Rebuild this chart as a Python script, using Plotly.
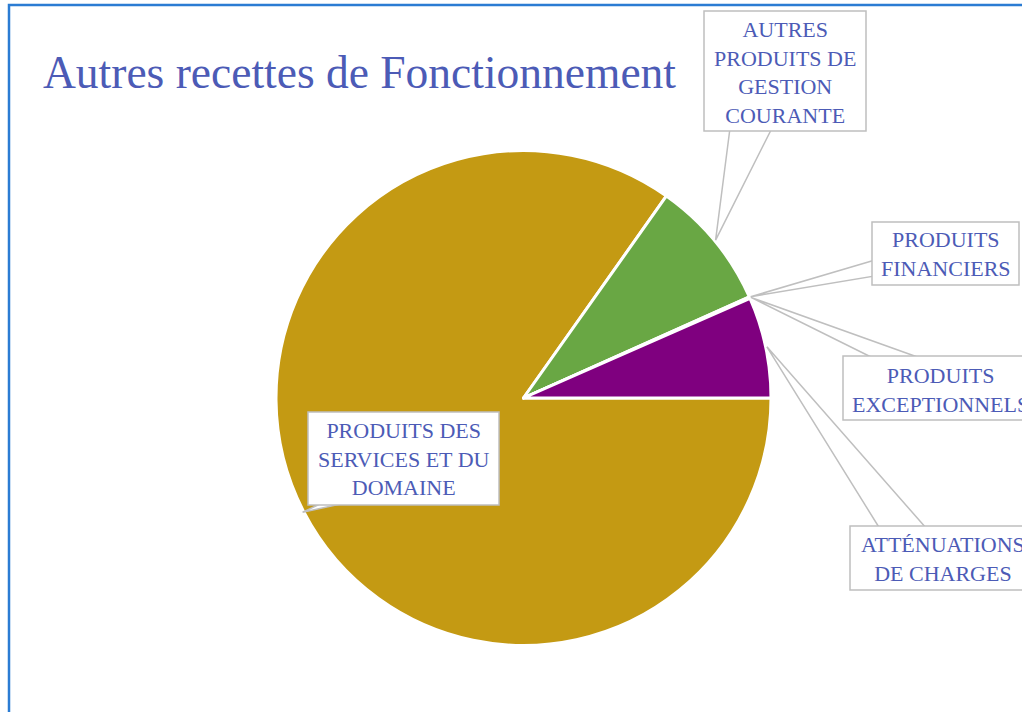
import math
import plotly.graph_objects as go

# ---------------- data ----------------
categories = [
    "PRODUITS DES SERVICES ET DU DOMAINE",
    "AUTRES PRODUITS DE GESTION COURANTE",
    "PRODUITS FINANCIERS",
    "PRODUITS EXCEPTIONNELS",
    "ATTÉNUATIONS DE CHARGES",
]
values = [84.8, 8.5, 0.05, 0.05, 6.6]
label_texts = [
    "PRODUITS DES<br>SERVICES ET DU<br>DOMAINE",
    "AUTRES<br>PRODUITS DE<br>GESTION<br>COURANTE",
    "PRODUITS<br>FINANCIERS",
    "PRODUITS<br>EXCEPTIONNELS",
    "ATTÉNUATIONS<br>DE CHARGES",
]
colors = ["#C49A13", "#69A744", "#4472C4", "#ED7D31", "#7F007F"]
title_text = "Autres recettes de Fonctionnement"

# ---------------- layout constants (pixels) ----------------
W, H = 1022, 712
CX, CY, R = 523.5, 398.0, 247.5
TXT = "#4C5BB6"
GRAY = "#BFBFBF"

def px(x):
    return x / W

def py(y):
    return 1 - y / H

# callout boxes: (x0, y0, x1, y1) in px, and wedge base points
boxes = [
    (308, 412, 499, 505),
    (704, 11, 866, 131),
    (872, 222, 1019, 285),
    (843, 356, 1037, 420),
    (850, 526, 1036, 590),
]
bases = [
    ((322, 503), (345, 503)),
    ((730, 128), (772, 128)),
    ((875, 260), (875, 276)),
    ((875, 359), (923, 359)),
    ((880, 529), (927, 529)),
]
# text block vertical centre offsets
text_cy = [459, 72, 254, 390, 559]

# slice tip positions computed from data (clockwise from 3 o'clock)
total = sum(values)
tips = []
cum = 0.0
for v in values:
    mid = -(cum + v / 2) / total * 2 * math.pi
    tips.append((CX + R * 1.005 * math.cos(mid), CY - R * 1.005 * math.sin(mid)))
    cum += v

fig = go.Figure()
fig.add_trace(go.Pie(
    labels=categories, values=values, sort=False, direction="clockwise",
    rotation=90, textinfo="none", hoverinfo="label+percent",
    marker=dict(colors=colors, line=dict(color="white", width=3)),
    domain=dict(x=[px(CX - R), px(CX + R)], y=[py(CY + R), py(CY - R)]),
    showlegend=False,
))

shapes = []
# blue frame
shapes.append(dict(type="rect", xref="paper", yref="paper",
                   x0=px(9), x1=px(1040), y0=py(730), y1=py(5),
                   line=dict(color="#2B7CD3", width=2.5), fillcolor="rgba(0,0,0,0)",
                   layer="above"))
# wedges
for (tx, ty), ((bx0, by0), (bx1, by1)) in zip(tips, bases):
    path = "M {:.4f},{:.4f} L {:.4f},{:.4f} L {:.4f},{:.4f} Z".format(
        px(bx0), py(by0), px(tx), py(ty), px(bx1), py(by1))
    shapes.append(dict(type="path", xref="paper", yref="paper", path=path,
                       line=dict(color=GRAY, width=1.5), fillcolor="white",
                       layer="above"))
# boxes
for (x0, y0, x1, y1) in boxes:
    shapes.append(dict(type="rect", xref="paper", yref="paper",
                       x0=px(x0), x1=px(x1), y0=py(y1), y1=py(y0),
                       line=dict(color=GRAY, width=1.5), fillcolor="white",
                       layer="above"))

annotations = []
for (x0, y0, x1, y1), t, cy in zip(boxes, label_texts, text_cy):
    annotations.append(dict(xref="paper", yref="paper", x=px((x0 + x1) / 2), y=py(cy),
                            text=t, showarrow=False, xanchor="center", yanchor="middle",
                            align="center",
                            font=dict(family="Liberation Serif", size=22, color=TXT)))
annotations.append(dict(xref="paper", yref="paper", x=px(41), y=py(73),
                        text=title_text, showarrow=False, xanchor="left", yanchor="middle",
                        font=dict(family="Liberation Serif", size=45.5, color=TXT)))

fig.update_layout(
    width=W, height=H, margin=dict(l=0, r=0, t=0, b=0),
    paper_bgcolor="white", plot_bgcolor="white",
    shapes=shapes, annotations=annotations,
)
fig.write_html("out.html", config={"displayModeBar": False},
               post_script="document.body.style.margin='0px';document.body.style.overflow='hidden';")
